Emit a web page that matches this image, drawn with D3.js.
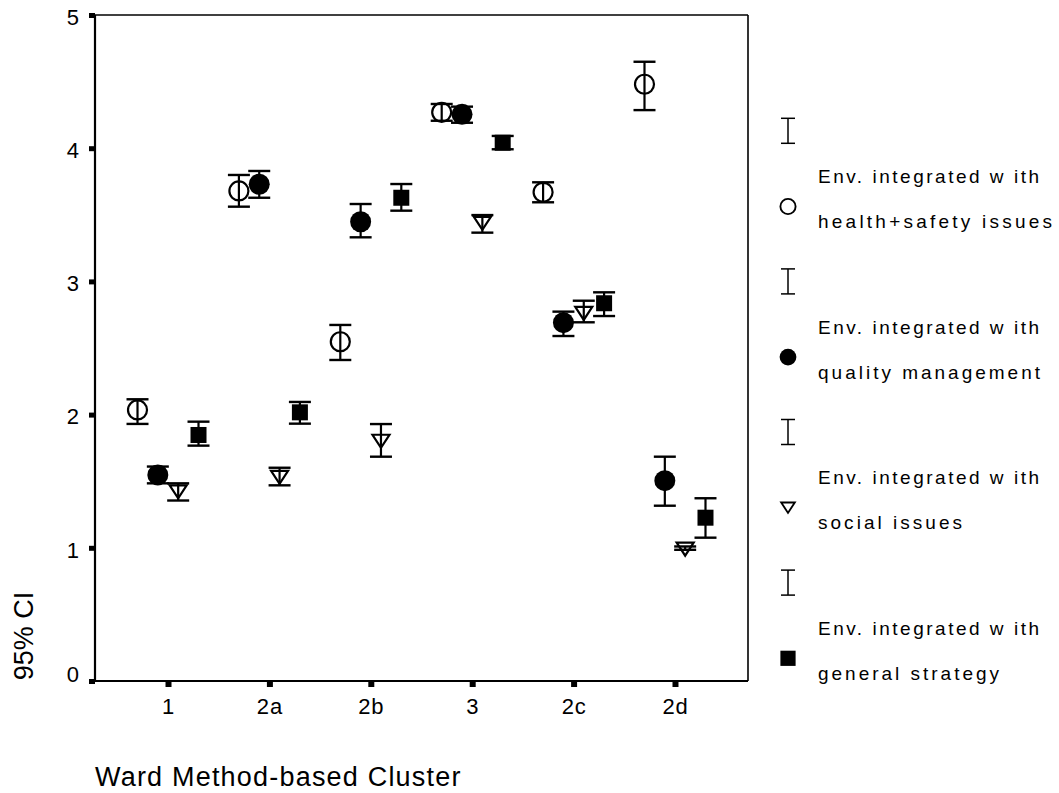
<!DOCTYPE html>
<html>
<head>
<meta charset="utf-8">
<script src="https://cdn.jsdelivr.net/npm/d3@7"></script>
<style>
  html, body { margin: 0; padding: 0; background: #fff; }
  svg { display: block; font-family: "Liberation Sans", Arial, sans-serif; }
</style>
</head>
<body>
<svg id="chart" width="1059" height="793"></svg>
<script>
// ---- data ----
const categories = ["1", "2a", "2b", "3", "2c", "2d"];
const yTicks = [0, 1, 2, 3, 4, 5];

const healthMean = [2.035, 3.679, 2.547, 4.269, 3.669, 4.480];
const healthLow  = [1.930, 3.561, 2.410, 4.206, 3.594, 4.286];
const healthHigh = [2.115, 3.799, 2.673, 4.332, 3.744, 4.649];

const qualityMean = [1.547, 3.729, 3.448, 4.254, 2.690, 1.504];
const qualityLow  = [1.484, 3.628, 3.331, 4.191, 2.590, 1.316];
const qualityHigh = [1.610, 3.829, 3.581, 4.312, 2.773, 1.684];

const socialMean = [1.420, 1.529, 1.800, 3.436, 2.760, 0.990];
const socialLow  = [1.355, 1.469, 1.684, 3.366, 2.693, 0.985];
const socialHigh = [1.484, 1.601, 1.929, 3.498, 2.855, 1.010];

const strategyMean = [1.847, 2.017, 3.628, 4.041, 2.836, 1.226];
const strategyLow  = [1.767, 1.932, 3.531, 3.992, 2.740, 1.076];
const strategyHigh = [1.947, 2.095, 3.731, 4.092, 2.918, 1.372];

const seriesKeys = ["health", "quality", "social", "strategy"];
const seriesLine1 = ["Env. integrated w ith", "Env. integrated w ith", "Env. integrated w ith", "Env. integrated w ith"];
const seriesLine2 = ["health+safety issues", "quality management", "social issues", "general strategy"];

const xTitle = "Ward Method-based Cluster";
const yTitle = "95% CI";

// ---- build ----
const series = [
  { key: "health",   mean: healthMean,   low: healthLow,   high: healthHigh },
  { key: "quality",  mean: qualityMean,  low: qualityLow,  high: qualityHigh },
  { key: "social",   mean: socialMean,   low: socialLow,   high: socialHigh },
  { key: "strategy", mean: strategyMean, low: strategyLow, high: strategyHigh }
];

const svg = d3.select("#chart");
const L = 95, R = 748, T = 15, B = 681;

const y = d3.scaleLinear().domain([0, 5]).range([B, T]);
const x = d3.scalePoint().domain(categories).range([L, R]).padding(0.72);
const off = d3.scalePoint().domain(seriesKeys).range([-30.5, 30.5]);

// frame
svg.append("line").attr("x1", L).attr("x2", R).attr("y1", T).attr("y2", T)
  .attr("stroke", "#000").attr("stroke-width", 1.6);
svg.append("line").attr("x1", R).attr("x2", R).attr("y1", T).attr("y2", B)
  .attr("stroke", "#000").attr("stroke-width", 1.6);

// y axis
const yAxis = d3.axisLeft(y).tickValues(yTicks).tickSize(6).tickPadding(10).tickFormat(d3.format("d"));
const gy = svg.append("g").attr("transform", `translate(${L},0)`).call(yAxis);
gy.select(".domain").attr("stroke", "#000").attr("stroke-width", 2.2).attr("d", `M0,${T}V${B}`);
gy.selectAll(".tick line").attr("stroke", "#000").attr("stroke-width", 5);
gy.selectAll(".tick text").attr("font-size", 22).attr("fill", "#000")
  .attr("font-family", "Liberation Sans, Arial, sans-serif")
  .attr("dy", d => d === 0 ? "0.0em" : "0.42em");

// x axis
const xAxis = d3.axisBottom(x).tickSize(6).tickPadding(6);
const gx = svg.append("g").attr("transform", `translate(0,${B})`).call(xAxis);
gx.select(".domain").attr("stroke", "#000").attr("stroke-width", 2.2).attr("d", `M${L},0H${R}`);
gx.selectAll(".tick line").attr("stroke", "#000").attr("stroke-width", 6);
gx.selectAll(".tick text").attr("font-size", 22).attr("fill", "#000")
  .attr("letter-spacing", 0.8)
  .attr("font-family", "Liberation Sans, Arial, sans-serif").attr("dy", "0.95em");

// titles
svg.append("text").attr("x", 95).attr("y", 786).attr("font-size", 27)
  .attr("letter-spacing", 1.2).text(xTitle);
svg.append("text").attr("transform", "translate(33,636) rotate(-90)")
  .attr("text-anchor", "middle").attr("font-size", 27).text(yTitle);

// error bars + markers
const capW = 22;
series.forEach((s) => {
  const g = svg.append("g");
  categories.forEach((c, i) => {
    const cx = x(c) + off(s.key);
    const yl = y(s.low[i]), yh = y(s.high[i]);
    g.append("line").attr("x1", cx).attr("x2", cx).attr("y1", yl).attr("y2", yh)
      .attr("stroke", "#000").attr("stroke-width", 2.2);
    g.append("line").attr("x1", cx - capW / 2).attr("x2", cx + capW / 2).attr("y1", yl).attr("y2", yl)
      .attr("stroke", "#000").attr("stroke-width", 2.4);
    g.append("line").attr("x1", cx - capW / 2).attr("x2", cx + capW / 2).attr("y1", yh).attr("y2", yh)
      .attr("stroke", "#000").attr("stroke-width", 2.4);
  });
  categories.forEach((c, i) => {
    const cx = x(c) + off(s.key);
    const cy = y(s.mean[i]);
    drawMarker(g, s.key, cx, cy, 1);
  });
});

function drawMarker(g, key, cx, cy, scale) {
  if (key === "health") {
    g.append("circle").attr("cx", cx).attr("cy", cy).attr("r", 9.5 * scale)
      .attr("fill", "none").attr("stroke", "#000").attr("stroke-width", 2.2 * Math.max(scale, 0.85));
  } else if (key === "quality") {
    g.append("circle").attr("cx", cx).attr("cy", cy).attr("r", 10.5 * scale).attr("fill", "#000");
  } else if (key === "social") {
    const w = 8.5 * scale, h = 6.5 * scale;
    g.append("path").attr("d", `M${cx - w},${cy - h}L${cx + w},${cy - h}L${cx},${cy + h}Z`)
      .attr("fill", "none").attr("stroke", "#000").attr("stroke-width", 2.2 * Math.max(scale, 0.85))
      .attr("stroke-linejoin", "miter");
  } else {
    const s = 16 * scale;
    g.append("rect").attr("x", cx - s / 2).attr("y", cy - s / 2).attr("width", s).attr("height", s)
      .attr("fill", "#000");
  }
}

// legend
const lgStep = 150.6;
const lgTextLen1 = 221;
const lgTextLen2 = [234, 222, 144, 181];
seriesKeys.forEach((k, i) => {
  const g = svg.append("g");
  const by = 130.8 + lgStep * i;
  const lx = 788;
  g.append("line").attr("x1", lx).attr("x2", lx).attr("y1", by - 12.5).attr("y2", by + 12.5)
    .attr("stroke", "#000").attr("stroke-width", 1.5);
  g.append("line").attr("x1", lx - 7).attr("x2", lx + 7).attr("y1", by - 12.5).attr("y2", by - 12.5)
    .attr("stroke", "#000").attr("stroke-width", 1.5);
  g.append("line").attr("x1", lx - 7).attr("x2", lx + 7).attr("y1", by + 12.5).attr("y2", by + 12.5)
    .attr("stroke", "#000").attr("stroke-width", 1.5);
  drawMarker(g, k, lx, 206.5 + lgStep * i, k === "strategy" ? 0.95 : 0.8);
  g.append("text").attr("x", 818).attr("y", 183 + lgStep * i).attr("font-size", 19)
    .attr("textLength", lgTextLen1).attr("lengthAdjust", "spacing").text(seriesLine1[i]);
  g.append("text").attr("x", 818).attr("y", 228 + lgStep * i).attr("font-size", 19)
    .attr("textLength", lgTextLen2[i]).attr("lengthAdjust", "spacing").text(seriesLine2[i]);
});
</script>
</body>
</html>
